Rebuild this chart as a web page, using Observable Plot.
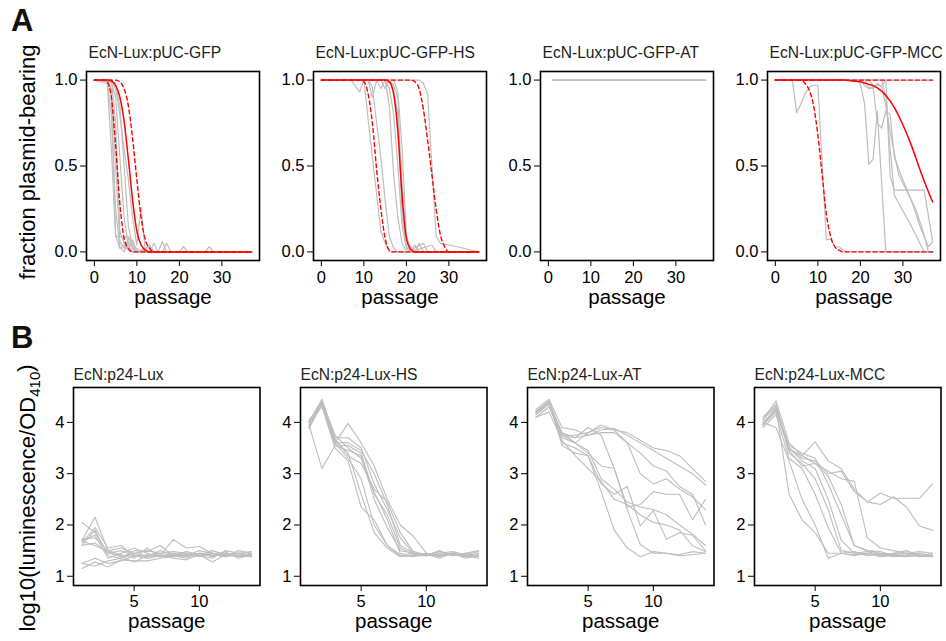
<!DOCTYPE html>
<html><head><meta charset="utf-8">
<script src="https://cdn.jsdelivr.net/npm/d3@7"></script>
<script src="https://cdn.jsdelivr.net/npm/@observablehq/plot@0.6"></script>
<style>
html,body{margin:0;padding:0;background:#fff;}
#fig{position:relative;width:946px;height:641px;overflow:hidden;background:#fff;font-family:"Liberation Sans",Arial,sans-serif;}
</style></head><body><div id="fig"></div>
<script>
// ---------- Panel A data: fraction plasmid-bearing vs passage ----------
const titlesA = ["EcN-Lux:pUC-GFP", "EcN-Lux:pUC-GFP-HS", "EcN-Lux:pUC-GFP-AT", "EcN-Lux:pUC-GFP-MCC"];
const xTicksA = [0, 10, 20, 30];
const yTicksA = [0, 0.5, 1];

const gfpReps = [
  [[0,1],[3,1],[4,0.6],[5,0.09],[6,0.09],[7,0.085],[8,0.09],[9,0.05],[10,0],[13,0.03],[14,0],[37,0]],
  [[0,1],[3,1],[4,0.9],[5,0.1],[6,0.02],[7,0.04],[8,0.01],[9,0],[16,0],[17,0.05],[18,0],[37,0]],
  [[0,1],[3,0.98],[4,0.8],[5,0.25],[6,0.03],[7,0],[8,0.06],[9,0.02],[10,0],[15,0],[16,0.06],[17,0],[37,0]],
  [[0,1],[4,1],[5,0.75],[6,0.12],[7,0.05],[8,0.02],[9,0.07],[10,0],[20,0],[21,0.03],[22,0],[37,0]],
  [[0,1],[4,0.99],[5,0.9],[6,0.55],[7,0.2],[8,0.04],[9,0],[26,0],[27,0.03],[28,0],[37,0]],
  [[0,1],[4,1],[5,0.95],[6,0.8],[7,0.6],[8,0.42],[9,0.2],[10,0.04],[11,0.26],[12,0],[37,0]],
  [[0,1],[3,1],[4,0.95],[5,0.5],[6,0.06],[7,0.02],[8,0.08],[9,0.03],[10,0],[12,0.02],[13,0],[14,0.05],[15,0],[37,0]],
  [[0,1],[4,1],[5,0.97],[6,0.85],[7,0.5],[8,0.15],[9,0.03],[10,0.02],[11,0],[13,0.04],[14,0],[37,0]]
];
const gfpFit = [[0,1],[3,1],[4,0.995],[5,0.97],[6,0.9],[7,0.76],[8,0.54],[9,0.3],[10,0.12],[11,0.04],[12,0.01],[13,0],[37,0]];
const gfpLo  = [[0,1],[2,1],[3,0.99],[4,0.9],[5,0.62],[6,0.28],[7,0.08],[8,0.02],[9,0],[37,0]];
const gfpHi  = [[0,1],[5,1],[6,0.99],[7,0.95],[8,0.85],[9,0.66],[10,0.42],[11,0.2],[12,0.07],[13,0.02],[14,0],[37,0]];

const hsReps = [
  [[0,1],[7,1],[9,0.93],[10,1],[12,0.55],[14,0.12],[15,0.05],[16,0],[37,0]],
  [[0,1],[11,1],[12,0.96],[13,0.75],[14,0.55],[15,0.3],[16,0.09],[17,0.02],[18,0],[37,0]],
  [[0,1],[11,1],[12,0.9],[13,1],[14,0.95],[15,1],[16,0.85],[17,0.45],[18,0.2],[19,0.05],[20,0],[37,0]],
  [[0,1],[15,1],[16,0.95],[17,0.8],[18,0.5],[19,0.15],[20,0.02],[21,0],[22,0.04],[23,0],[37,0]],
  [[0,1],[16,1],[17,0.94],[18,0.8],[19,0.4],[20,0.08],[21,0.03],[22,0],[23,0.05],[24,0],[37,0]],
  [[0,1],[17,1],[18,0.93],[19,0.6],[20,0.1],[21,0.01],[24,0.05],[25,0],[37,0]],
  [[0,1],[14,1],[15,0.95],[16,1],[17,0.97],[18,0.9],[19,0.2],[20,0.03],[21,0],[26,0.04],[27,0],[37,0]],
  [[0,1],[23,1],[24,0.98],[25,0.92],[27,0.09],[28,0.05],[32,0.03],[37,0]]
];
const hsFit = [[0,1],[15,1],[16,0.99],[17,0.92],[18,0.7],[19,0.32],[20,0.08],[21,0.015],[22,0],[37,0]];
const hsLo  = [[0,1],[9,1],[10,0.99],[11,0.92],[12,0.75],[13,0.48],[14,0.25],[15,0.08],[16,0.01],[17,0],[37,0]];
const hsHi  = [[0,1],[21,1],[22,0.99],[23,0.95],[24,0.83],[25,0.65],[26,0.45],[27,0.25],[28,0.1],[29,0.03],[30,0],[37,0]];

const atReps = [
  [[1,1],[37,1]],
  [[1,1],[37,1]],
  [[1,1],[37,1]]
];

const mccReps = [
  [[0,1],[4,1],[5,0.81],[6,0.86],[7,0.92],[8,0.96],[9,0.97],[10,0.97],[11,0.52],[12,0.07],[13,0.075],[14,0.03],[15,0.03],[16,0.01],[17,0],[37,0]],
  [[0,1],[19,1],[20,0.98],[21,0.86],[22,0.51],[23,0.54],[24,0.82],[25,0.4],[26,0],[37,0]],
  [[0,1],[20,1],[21,0.97],[22,0.95],[23,0.96],[24,0.75],[25,0.72],[26,0.82],[27,0.8],[28,0.55],[30,0.42],[32,0.3],[34,0.15],[36,0.03],[37,0.06]],
  [[0,1],[22,1],[23,0.97],[25,0.97],[26,1],[27,0.44],[28,0.36],[35,0.36],[37,0.06]],
  [[0,1],[25,1],[26,0.9],[27,0.6],[28,0.33],[30,0.24],[32,0.15],[34,0.05],[35,0],[37,0]],
  [[0,1],[37,1]],
  [[0,1],[21,1],[22,0.96],[23,0.95],[24,0.98],[25,0.96],[26,0.85],[27,0.7],[29,0.45],[31,0.35],[33,0.25],[35,0.1],[36,0],[37,0]]
];
const mccFit = [[0,1],[16,1],[18,0.995],[20,0.99],[22,0.975],[24,0.955],[26,0.91],[28,0.84],[30,0.74],[32,0.62],[34,0.48],[36,0.35],[37,0.29]];
const mccLo  = [[0,1],[6,1],[7,0.98],[8,0.94],[9,0.85],[10,0.68],[11,0.45],[12,0.22],[13,0.09],[14,0.03],[15,0.01],[16,0],[37,0]];
const mccHi  = [[0,1],[37,1]];

// ---------- Panel B data: log10(luminescence/OD410) vs passage ----------
const titlesB = ["EcN:p24-Lux", "EcN:p24-Lux-HS", "EcN:p24-Lux-AT", "EcN:p24-Lux-MCC"];
const passagesB = [1,2,3,4,5,6,7,8,9,10,11,12,13,14];
const xTicksB = [5, 10];
const yTicksB = [1, 2, 3, 4];

const luxReps = [
  [2.05,1.85,1.45,1.5,1.4,1.35,1.4,1.38,1.42,1.45,1.4,1.42,1.4,1.45],
  [1.7,2.15,1.5,1.55,1.45,1.5,1.45,1.4,1.35,1.45,1.45,1.4,1.45,1.42],
  [1.65,1.95,1.55,1.6,1.38,1.42,1.4,1.72,1.55,1.58,1.45,1.45,1.4,1.38],
  [1.6,1.9,1.4,1.35,1.5,1.48,1.6,1.4,1.42,1.4,1.5,1.42,1.45,1.4],
  [1.72,1.75,1.5,1.42,1.35,1.55,1.38,1.45,1.4,1.5,1.45,1.38,1.5,1.45],
  [1.25,1.35,1.25,1.3,1.4,1.35,1.42,1.35,1.32,1.42,1.28,1.42,1.38,1.4],
  [1.15,1.28,1.18,1.32,1.3,1.3,1.35,1.38,1.4,1.45,1.38,1.45,1.4,1.43],
  [1.6,1.65,1.45,1.4,1.42,1.38,1.5,1.42,1.38,1.44,1.42,1.38,1.42,1.4],
  [1.7,1.8,1.35,1.45,1.55,1.45,1.38,1.4,1.48,1.42,1.4,1.48,1.35,1.42],
  [1.68,1.6,1.48,1.38,1.28,1.4,1.45,1.48,1.45,1.38,1.45,1.4,1.45,1.38],
  [1.25,1.2,1.3,1.35,1.45,1.4,1.38,1.42,1.45,1.4,1.35,1.5,1.45,1.48]
];
const luxHsReps = [
  [3.9,4.4,3.6,3.98,3.6,3.15,2.5,2.0,1.78,1.45,1.42,1.45,1.4,1.38],
  [4.0,4.45,3.7,3.7,3.5,2.8,2.3,1.75,1.45,1.42,1.48,1.4,1.45,1.5],
  [4.05,4.35,3.55,3.55,3.4,2.6,2.2,1.55,1.42,1.45,1.4,1.45,1.38,1.42],
  [3.95,3.1,3.55,3.45,3.35,2.5,1.95,1.5,1.45,1.4,1.45,1.48,1.42,1.4],
  [4.0,4.4,3.75,3.5,3.3,2.65,2.1,1.45,1.4,1.42,1.38,1.46,1.4,1.35],
  [3.95,4.35,3.6,3.3,2.9,2.0,1.6,1.42,1.38,1.45,1.4,1.42,1.45,1.38],
  [4.0,4.3,3.5,3.25,2.35,2.1,1.6,1.4,1.45,1.43,1.35,1.45,1.4,1.45],
  [3.9,4.38,3.65,3.4,2.6,1.85,1.55,1.38,1.4,1.4,1.42,1.45,1.35,1.4],
  [4.02,4.42,3.6,3.6,3.45,3.0,2.4,1.6,1.45,1.4,1.5,1.4,1.42,1.48],
  [3.88,4.36,3.68,3.35,3.2,2.7,2.45,1.85,1.48,1.42,1.4,1.44,1.38,1.42]
];
const luxAtReps = [
  [4.2,4.4,3.75,3.75,3.8,3.95,3.85,3.8,3.65,3.5,3.45,3.35,3.1,2.85],
  [4.15,4.35,3.8,3.7,3.75,3.85,3.88,3.75,3.6,3.45,3.3,3.15,3.0,2.78],
  [4.25,4.45,3.9,3.85,3.75,3.8,3.8,3.6,3.0,2.8,2.9,2.7,2.55,2.3],
  [4.1,4.3,3.7,3.6,3.8,3.9,3.85,3.6,3.4,3.15,3.05,2.75,2.6,2.0],
  [4.2,4.4,3.75,3.6,3.4,3.15,3.1,2.35,2.4,2.65,2.6,2.6,2.1,2.5],
  [4.15,4.4,3.6,3.5,3.35,2.8,2.6,2.75,1.98,2.28,1.72,1.85,1.8,1.5],
  [4.2,4.42,3.55,3.4,3.35,2.65,1.9,1.55,1.38,1.48,1.45,1.42,1.48,1.45],
  [4.1,4.2,3.65,3.35,3.1,2.85,2.5,2.4,2.2,2.05,2.0,1.9,1.6,1.48],
  [4.22,4.4,3.75,3.7,3.9,3.75,3.1,2.3,1.62,1.45,1.45,1.4,1.42,1.45],
  [4.18,4.38,3.8,3.6,3.45,2.9,2.7,2.45,2.35,2.3,2.2,2.0,1.82,1.6]
];
const luxMccReps = [
  [4.05,4.42,3.6,3.35,3.62,3.25,3.1,2.7,2.45,2.62,2.52,2.52,2.52,2.8],
  [3.95,4.3,3.5,3.3,3.25,3.0,3.05,2.65,2.45,2.4,2.55,2.35,1.98,1.9],
  [4.0,4.25,3.45,3.15,3.2,3.05,2.9,2.85,1.75,1.55,1.5,1.45,1.48,1.45],
  [3.95,4.2,3.55,3.4,3.3,2.8,2.2,1.6,1.5,1.45,1.42,1.4,1.45,1.4],
  [4.1,4.35,3.4,3.2,2.9,2.3,1.5,1.45,1.48,1.42,1.45,1.5,1.4,1.42],
  [3.9,4.15,3.3,3.1,2.6,1.95,1.45,1.4,1.45,1.4,1.42,1.45,1.38,1.4],
  [3.95,4.28,2.6,2.1,1.85,1.45,1.45,1.42,1.45,1.38,1.4,1.42,1.45,1.38],
  [4.0,3.9,3.25,2.5,2.0,1.35,1.45,1.48,1.4,1.45,1.38,1.4,1.4,1.45],
  [4.05,4.32,3.5,3.25,3.1,2.5,1.7,1.45,1.42,1.4,1.45,1.45,1.42,1.4],
  [3.98,4.22,3.48,3.35,3.2,2.95,2.4,1.6,1.5,1.48,1.4,1.38,1.4,1.38]
];

// ---------- build ----------
const FONT = "Liberation Sans, Arial, Helvetica, sans-serif";
const fig = document.getElementById("fig");
const GREY = "#bebebe";

const facetsA = [
  {reps: gfpReps, fit: gfpFit, lo: gfpLo, hi: gfpHi},
  {reps: hsReps, fit: hsFit, lo: hsLo, hi: hsHi},
  {reps: atReps, fit: null, lo: null, hi: null},
  {reps: mccReps, fit: mccFit, lo: mccLo, hi: mccHi}
];
const facetsB = [luxReps, luxHsReps, luxAtReps, luxMccReps];

function pairsToRows(list) {
  return list.flatMap((pts, r) => pts.map(([p, v]) => ({rep: r, p, v})));
}
function place(svg, left, top) {
  svg.style.position = "absolute";
  svg.style.left = left + "px";
  svg.style.top = top + "px";
  fig.appendChild(svg);
}

facetsA.forEach((f, i) => {
  const fl = 86 + 227 * i, ft = 71, fw = 173, fh = 189;
  const mL = 60, mT = 32, mR = 6, mB = 60;
  const marks = [
    Plot.line(pairsToRows(f.reps), {x: "p", y: "v", z: "rep", stroke: GREY, strokeWidth: 1.2}),
  ];
  if (f.fit) {
    marks.push(
      Plot.line(f.lo, {x: d => d[0], y: d => d[1], stroke: "red", strokeWidth: 1.4, strokeDasharray: "4,3", curve: "monotone-x"}),
      Plot.line(f.hi, {x: d => d[0], y: d => d[1], stroke: "red", strokeWidth: 1.4, strokeDasharray: "4,3", curve: "monotone-x"}),
      Plot.line(f.fit, {x: d => d[0], y: d => d[1], stroke: "red", strokeWidth: 1.5, curve: "monotone-x"})
    );
  }
  marks.push(
    Plot.frame({stroke: "#000", strokeWidth: 1.6}),
    Plot.axisX({ticks: xTicksA, tickSize: 6, tickPadding: 5, fontSize: 16.5, label: null, fill: "#000", stroke: "#000"}),
    Plot.axisY({ticks: yTicksA, tickSize: 6, tickPadding: 3, fontSize: 16.5, label: null, tickFormat: d3.format(".1f"), fill: "#000", stroke: "#000"}),
    Plot.text([titlesA[i]], {frameAnchor: "top-left", textAnchor: "start", lineAnchor: "bottom", dx: 2, dy: -13.5, fontSize: 15.6, fill: "#222"}),
    Plot.text(["passage"], {frameAnchor: "bottom", lineAnchor: "bottom", dy: 43, fontSize: 20.5, fill: "#000"})
  );
  const svg = Plot.plot({
    width: mL + fw + mR, height: mT + fh + mB,
    marginLeft: mL, marginTop: mT, marginRight: mR, marginBottom: mB,
    style: {background: "transparent", overflow: "visible", fontFamily: FONT, color: "#000"},
    x: {domain: [-1.85, 38.85]},
    y: {domain: [-0.05, 1.05]},
    marks
  });
  place(svg, fl - mL, ft - mT);
});

facetsB.forEach((reps, i) => {
  const fl = 73 + 227 * i, ft = 387, fw = 186.5, fh = 198;
  const mL = 60, mT = 30, mR = 6, mB = 56;
  const rows = reps.flatMap((vals, r) => vals.map((v, j) => ({rep: r, p: passagesB[j], v})));
  const svg = Plot.plot({
    width: mL + fw + mR, height: mT + fh + mB,
    marginLeft: mL, marginTop: mT, marginRight: mR, marginBottom: mB,
    style: {background: "transparent", overflow: "visible", fontFamily: FONT, color: "#000"},
    x: {domain: [0.35, 14.65]},
    y: {domain: [0.82, 4.68]},
    marks: [
      Plot.line(rows, {x: "p", y: "v", z: "rep", stroke: GREY, strokeWidth: 1.1}),
      Plot.frame({stroke: "#000", strokeWidth: 1.6}),
      Plot.axisX({ticks: xTicksB, tickSize: 6, tickPadding: 4, fontSize: 16.5, label: null, tickFormat: d3.format("d"), fill: "#000", stroke: "#000"}),
      Plot.axisY({ticks: yTicksB, tickSize: 6, tickPadding: 3, fontSize: 16.5, label: null, tickFormat: d3.format("d"), fill: "#000", stroke: "#000"}),
      Plot.text([titlesB[i]], {frameAnchor: "top-left", textAnchor: "start", lineAnchor: "bottom", dx: 0, dy: -7.5, fontSize: 15.6, fill: "#222"}),
      Plot.text(["passage"], {frameAnchor: "bottom", lineAnchor: "bottom", dy: 42, fontSize: 20.5, fill: "#000"})
    ]
  });
  place(svg, fl - mL, ft - mT);
});

// Panel letters and y-axis titles
const over = d3.create("svg").attr("width", 946).attr("height", 641)
  .style("position", "absolute").style("left", "0px").style("top", "0px")
  .style("font-family", FONT).style("pointer-events", "none");
over.append("text").attr("x", 11).attr("y", 31).attr("font-size", 31).attr("font-weight", "bold").attr("fill", "#111").text("A");
over.append("text").attr("x", 11).attr("y", 348).attr("font-size", 31).attr("font-weight", "bold").attr("fill", "#111").text("B");
over.append("text").attr("transform", "translate(35,162) rotate(-90)").attr("text-anchor", "middle")
  .attr("font-size", 22).attr("fill", "#000").text("fraction plasmid-bearing");
const t2 = over.append("text").attr("transform", "translate(35,498) rotate(-90)").attr("text-anchor", "middle")
  .attr("font-size", 22).attr("fill", "#000");
t2.append("tspan").text("log10(luminescence/OD");
t2.append("tspan").attr("font-size", 15).attr("dy", "0.35em").text("410");
t2.append("tspan").attr("dy", "-0.35em").text(")");
fig.appendChild(over.node());
</script>
</body></html>
